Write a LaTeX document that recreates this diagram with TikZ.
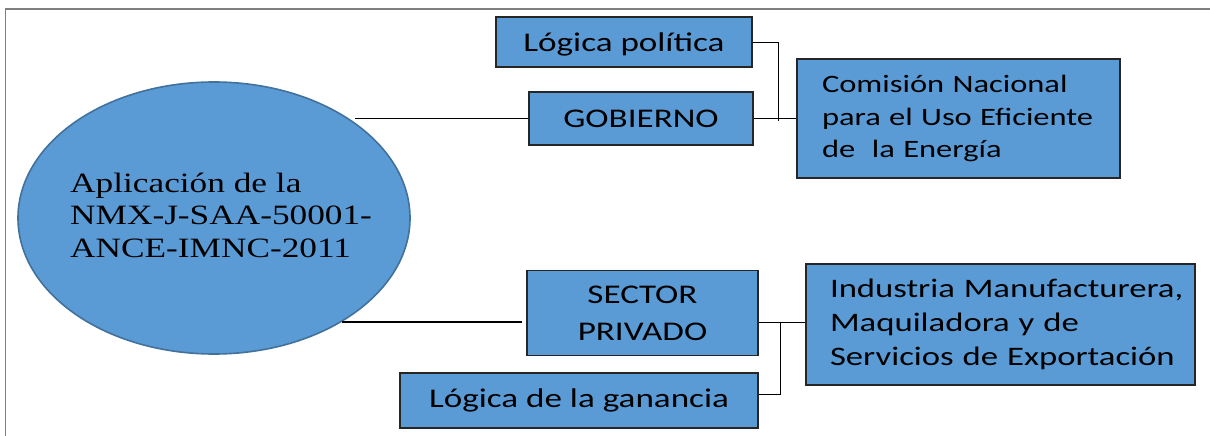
\documentclass[tikz,border=0pt]{standalone}
\usepackage{fontspec}
\setmainfont{Liberation Serif}
\newfontfamily\boxfont[FakeStretch=1.3]{Carlito}
\newfontfamily\ellfont[FakeStretch=1.26]{Liberation Serif}
\usetikzlibrary{shapes.geometric}
\definecolor{fillblue}{HTML}{5B9BD5}
\definecolor{ellborder}{HTML}{41719C}
\definecolor{frameg}{HTML}{7F7F7F}
\definecolor{boxborder}{HTML}{262626}
\begin{document}
\begin{tikzpicture}[x=1pt,y=-1pt,
  bbox/.style={draw=boxborder, line width=1.3pt, fill=fillblue, inner sep=0pt,
    font=\boxfont\fontsize{27}{37}\selectfont, align=center},
  lbox/.style={bbox, align=left},
  ellnode/.style={ellipse, draw=ellborder, line width=1.6pt, fill=fillblue, inner sep=0pt},
  elltext/.style={font=\ellfont\fontsize{28}{32.5}\selectfont, align=left, inner sep=0pt},
  conn/.style={draw=black, line width=0.9pt},
  thickconn/.style={draw=black, line width=2.6pt},
  frameline/.style={draw=frameg, line width=1.4pt}]
\useasboundingbox (0,0) rectangle (1210,436);
\fill[white] (0,0) rectangle (1210,436);
\draw[frameline] (5.5,436) -- (5.5,9) -- (1210,9);

% main ellipse
\node[ellnode, minimum width=392pt, minimum height=272pt] (ell) at (214,218) {};
\node[elltext, anchor=west] (elltxt) at (70,215) {Aplicación de la\\NMX-J-SAA-50001-\\ANCE-IMNC-2011};

% boxes
\node[bbox, minimum width=256pt, minimum height=50pt, text height=26pt, text depth=6pt] (lp) at (624,42) {Lógica política};
\node[bbox, minimum width=224pt, minimum height=53pt] (gob) at (641,118.5) {GOBIERNO};
\node[lbox, minimum width=323pt, minimum height=119pt, text width=273pt, inner xsep=25pt,
  font=\boxfont\fontsize{25}{32.5}\selectfont] (com) at (958.5,118.5)
  {Comisión Nacional\\para el Uso Eficiente\\de\ \ la Energía};
\node[bbox, minimum width=231pt, minimum height=85pt] (sp) at (642.5,313) {SECTOR\\PRIVADO};
\node[bbox, minimum width=358pt, minimum height=55pt] (lg) at (579,400.5) {Lógica de la ganancia};
\node[lbox, minimum width=389pt, minimum height=121pt, text width=341pt, inner xsep=24pt,
  font=\boxfont\fontsize{26.7}{34}\selectfont] (ind) at (1000.5,324.5)
  {\mbox{Industria Manufacturera,}\\\mbox{Maquiladora y de}\\\mbox{Servicios de Exportación}};

% connectors
\coordinate (e1) at (355,118.5);
\coordinate (e2) at (342,322);
\coordinate (j1) at (778,121);
\coordinate (b1) at (780,322);
\coordinate (b2) at (780,394);
\draw[conn] (e1) -- (gob.west);
\draw[thickconn, shorten >=4pt] (e2) -- (sp.west |- e2);
\draw[conn] (lp.east) -| (j1);
\draw[conn] (gob.east) -- (com.west);
\draw[conn] (sp.east |- b1) -- (ind.west |- b1);
\draw[conn] (lg.east |- b2) -- (b2) -- (b1);
\end{tikzpicture}
\end{document}
